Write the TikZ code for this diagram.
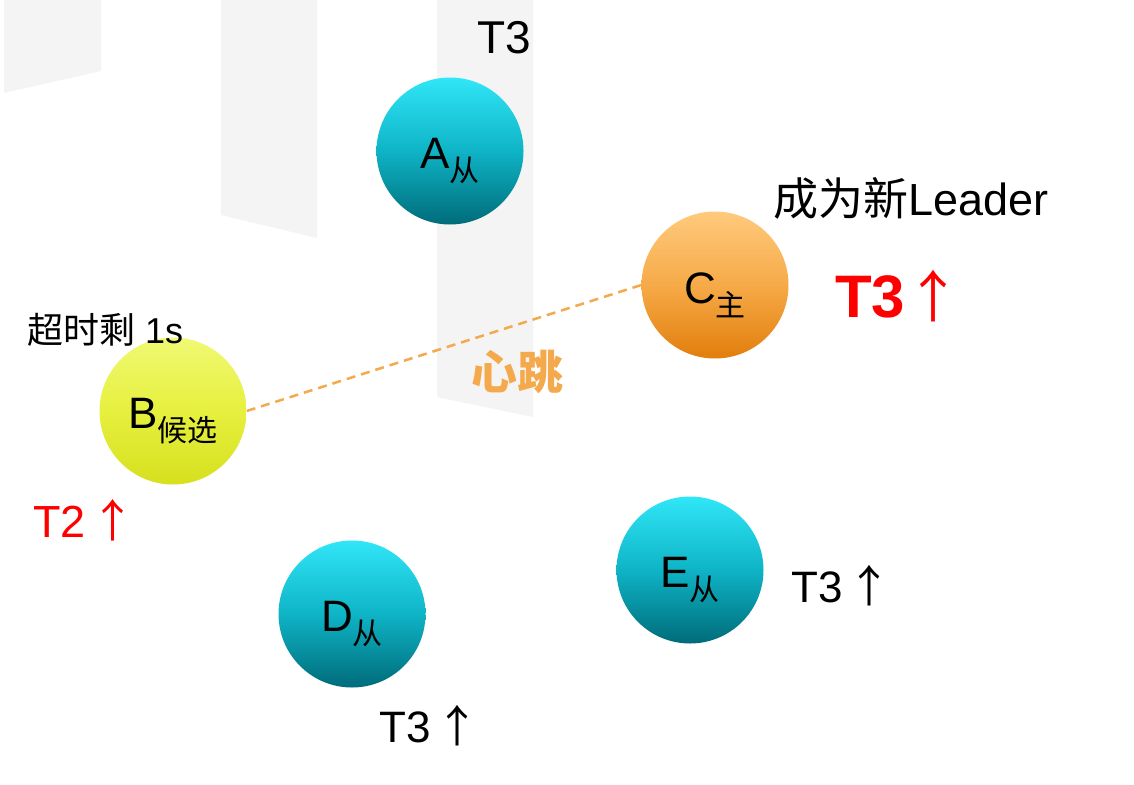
\documentclass[tikz,border=0pt]{standalone}
\usepackage{fontspec}
\setmainfont{Liberation Sans}
\newfontfamily\cjk{Noto Sans CJK SC}
\definecolor{bandgray}{RGB}{244,244,244}
\definecolor{tealtop}{RGB}{48,230,247}
\definecolor{tealmid}{RGB}{14,180,198}
\definecolor{tealbot}{RGB}{0,108,122}
\definecolor{orgtop}{RGB}{255,202,125}
\definecolor{orgmid}{RGB}{246,170,72}
\definecolor{orgbot}{RGB}{226,126,12}
\definecolor{yeltop}{RGB}{240,249,115}
\definecolor{yelmid}{RGB}{230,240,62}
\definecolor{yelbot}{RGB}{214,224,30}
\definecolor{beat}{RGB}{244,170,76}
\definecolor{hotred}{RGB}{255,0,0}
\newcommand{\fs}[1]{\fontsize{#1}{#1}\selectfont}
\newcommand{\sub}[1]{\raisebox{-13pt}{\cjk\fs{30}#1}\rule{0pt}{51pt}}
\begin{document}
\begin{tikzpicture}[x=1pt,y=-1pt,
  ball/.style={circle,minimum size=147pt,inner sep=0pt,font=\fs{44}},
  follower/.style={ball,top color=tealtop,bottom color=tealbot,middle color=tealmid},
  leader/.style={ball,top color=orgtop,bottom color=orgbot,middle color=orgmid},
  candidate/.style={ball,top color=yeltop,bottom color=yelbot,middle color=yelmid},
  lbl/.style={inner sep=0pt,anchor=base west},
  heart/.style={draw=beat,line width=2.5pt,dash pattern=on 9pt off 6pt}]
\useasboundingbox (0,0) rectangle (1134,784);
\fill[white] (0,0) rectangle (1134,784);
% faint background bands
\fill[bandgray] (4,0) -- (101,0) -- (101,71) -- (4,93) -- cycle;
\fill[bandgray] (221,0) -- (317,0) -- (317,238) -- (221,215) -- cycle;
\fill[bandgray] (437,0) -- (533,0) -- (533,417) -- (437,397) -- cycle;
% nodes
\node[follower] (A) at (450,151) {A\sub{从}};
\node[leader] (C) at (715,285) {C\sub{主}};
\node[candidate] (B) at (173,411) {B\sub{候选}};
\node[follower] (D) at (352,614) {D\sub{从}};
\node[follower] (E) at (690,570) {E\sub{从}};
% heartbeat
\draw[heart] (B.east) -- (C.west);
\node[font=\cjk\bfseries\fs{46},text=beat] (hb) at (517,372) {心跳};
% labels
\node[lbl,font=\fs{46}] (tA) at (477,53) {T3};
\node[lbl,font=\fs{45}] (newL) at (773,215) {{\cjk 成为新}Leader};
\node[lbl,font=\bfseries\fs{60},text=hotred] (tC) at (835,317) {T3{\mdseries\cjk\fs{56}↑}};
\node[lbl,font=\fs{36}] (tB1) at (27,343) {{\cjk 超时剩} 1s};
\node[lbl,font=\fs{45},text=hotred] (tB2) at (33,537) {T2\hspace{5pt}{\cjk ↑}};
\node[lbl,font=\fs{44}] (tE) at (791,602) {T3\hspace{5pt}{\cjk ↑}};
\node[lbl,font=\fs{44}] (tD) at (379,742) {T3\hspace{5pt}{\cjk ↑}};
\end{tikzpicture}
\end{document}
